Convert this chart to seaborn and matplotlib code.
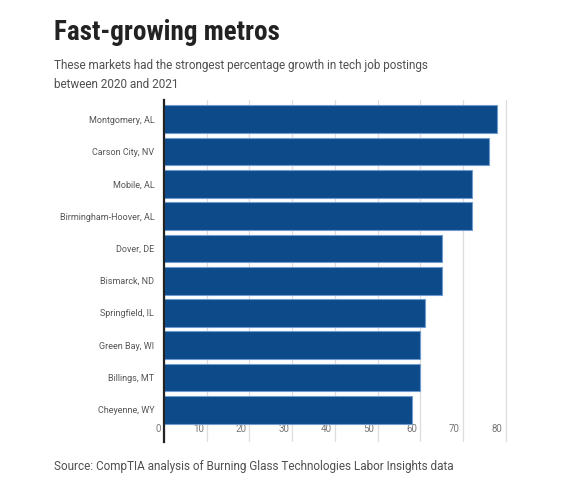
import seaborn as sns
import pandas as pd
import matplotlib.pyplot as plt
from matplotlib.transforms import ScaledTranslation

metros = ["Montgomery, AL", "Carson City, NV", "Mobile, AL", "Birmingham-Hoover, AL",
          "Dover, DE", "Bismarck, ND", "Springfield, IL", "Green Bay, WI",
          "Billings, MT", "Cheyenne, WY"]
growth = [78, 76, 72, 72, 65, 65, 61, 60, 60, 58]
ticks = [0, 10, 20, 30, 40, 50, 60, 70, 80]

df = pd.DataFrame({"metro": metros, "growth": growth})

sns.set_style("white")
plt.rcParams["font.family"] = ["Roboto", "DejaVu Sans"]

fig = plt.figure(figsize=(5.7, 4.86), dpi=100)
ax = fig.add_axes([164 / 570, 1 - 442 / 486, (510 - 164) / 570, (442 - 100) / 486])

sns.barplot(data=df, x="growth", y="metro", color="#0c4a8a", saturation=1,
            width=0.86, edgecolor="#6f9bcf", linewidth=0.8, ax=ax)

ax.set_xlim(0, 81)
ax.set_ylim(10.0, -0.6)
ax.set_xticks(ticks)
ax.set_xlabel("")
ax.set_ylabel("")
ax.grid(axis="x", color="#dddddd", linewidth=0.9)
ax.set_axisbelow(True)
for s in ["top", "right", "bottom"]:
    ax.spines[s].set_visible(False)
ax.spines["left"].set_color("#222222")
ax.spines["left"].set_linewidth(1.6)
ax.tick_params(axis="x", length=0, pad=-13, labelsize=7, labelcolor="#777777")
ax.tick_params(axis="y", length=0, pad=7, labelsize=6.5, labelcolor="#555555")
for lab in ax.get_xticklabels():
    lab.set_ha("right")
    lab.set_transform(lab.get_transform() + ScaledTranslation(-3 / 100, 0, fig.dpi_scale_trans))

# condensed headline
fig.text(54 / 570, 1 - 33 / 486, "Fast-growing metros", fontsize=19.5, fontweight="bold",
         family=["Roboto Condensed", "Roboto", "DejaVu Sans"],
         color="#222222", va="center", ha="left")
fig.text(54 / 570, 1 - 75 / 486,
         "These markets had the strongest percentage growth in tech job postings\nbetween 2020 and 2021",
         fontsize=8.5, color="#505050", va="center", ha="left", linespacing=1.5)
fig.text(54 / 570, 1 - 466 / 486,
         "Source: CompTIA analysis of Burning Glass Technologies Labor Insights data",
         fontsize=8.5, color="#505050", va="center", ha="left")

fig.savefig("out.png", dpi=100)
